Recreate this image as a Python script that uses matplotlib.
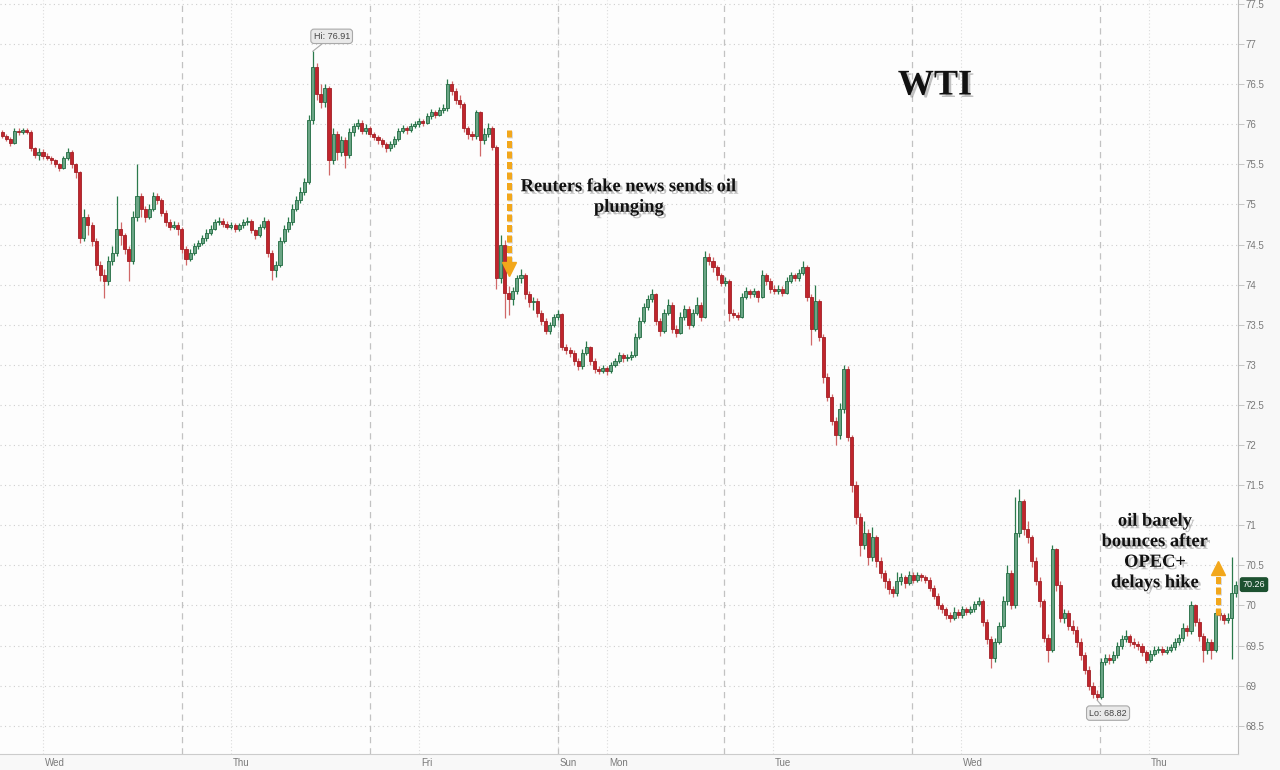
import numpy as np
import matplotlib
matplotlib.use("Agg")
import matplotlib.pyplot as plt
import matplotlib.patheffects as pe
from matplotlib.transforms import ScaledTranslation

# WTI crude, 30-minute candles (trading hours only, session gaps removed)
closes = [
    75.86, 75.82, 75.77, 75.92, 75.90, 75.93, 75.91, 75.70, 75.62, 75.66,
    75.60, 75.58, 75.55, 75.50, 75.46, 75.58, 75.66, 75.50, 75.40, 74.58,
    74.85, 74.75, 74.55, 74.25, 74.12, 74.05, 74.30, 74.40, 74.70, 74.62,
    74.45, 74.30, 74.85, 75.10, 74.95, 74.85, 74.95, 75.10, 75.05, 74.90,
    74.78, 74.72, 74.75, 74.70, 74.45, 74.32, 74.40, 74.48, 74.52, 74.58,
    74.65, 74.70, 74.78, 74.80, 74.76, 74.72, 74.75, 74.70, 74.74, 74.78,
    74.80, 74.68, 74.62, 74.72, 74.80, 74.40, 74.18, 74.25, 74.55, 74.70,
    74.78, 74.95, 75.05, 75.15, 75.28, 76.05, 76.72, 76.38, 76.28, 76.45,
    75.55, 75.88, 75.65, 75.80, 75.62, 75.90, 75.98, 76.02, 75.92, 75.95,
    75.88, 75.84, 75.80, 75.76, 75.70, 75.75, 75.82, 75.92, 75.95, 75.93,
    75.98, 76.00, 76.04, 76.02, 76.10, 76.15, 76.12, 76.18, 76.20, 76.50,
    76.42, 76.30, 76.25, 75.95, 75.88, 75.85, 76.15, 75.80, 75.88, 75.95,
    75.72, 74.08, 74.50, 73.90, 73.82, 73.92, 74.08, 74.12, 73.88, 73.78,
    73.80, 73.65, 73.55, 73.42, 73.50, 73.60, 73.63, 73.22, 73.18, 73.15,
    73.05, 72.98, 73.15, 73.22, 73.05, 72.95, 72.93, 72.96, 72.92, 73.00,
    73.05, 73.12, 73.08, 73.10, 73.12, 73.35, 73.55, 73.72, 73.82, 73.88,
    73.55, 73.42, 73.65, 73.75, 73.45, 73.40, 73.60, 73.70, 73.50, 73.65,
    73.75, 73.60, 74.35, 74.30, 74.22, 74.12, 74.02, 74.05, 73.65, 73.62,
    73.60, 73.85, 73.92, 73.88, 73.92, 73.85, 74.12, 74.05, 73.95, 73.92,
    73.95, 73.90, 74.05, 74.12, 74.08, 74.15, 74.22, 73.85, 73.45, 73.80,
    73.35, 72.85, 72.60, 72.30, 72.12, 72.45, 72.95, 72.10, 71.50, 71.10,
    70.75, 70.90, 70.60, 70.85, 70.55, 70.40, 70.30, 70.20, 70.15, 70.30,
    70.35, 70.28, 70.38, 70.32, 70.38, 70.35, 70.32, 70.22, 70.12, 70.00,
    69.95, 69.88, 69.85, 69.92, 69.88, 69.95, 69.92, 69.95, 70.02, 70.05,
    69.80, 69.58, 69.35, 69.55, 69.75, 70.05, 70.40, 70.00, 70.90, 71.30,
    70.95, 70.85, 70.55, 70.30, 70.05, 69.60, 69.45, 70.70, 70.25, 69.85,
    69.90, 69.75, 69.70, 69.55, 69.38, 69.20, 69.00, 68.90, 68.86, 69.30,
    69.35, 69.32, 69.38, 69.50, 69.58, 69.62, 69.55, 69.52, 69.50, 69.42,
    69.32, 69.40, 69.45, 69.46, 69.42, 69.45, 69.48, 69.55, 69.60, 69.72,
    69.68, 70.00, 69.80, 69.62, 69.45, 69.55, 69.45, 69.90, 69.88, 69.82,
    69.85, 70.15, 70.26,
]

highs = [
    75.93, 75.88, 75.84, 75.95, 75.96, 75.96, 75.95, 75.93, 75.72, 75.70,
    75.69, 75.64, 75.60, 75.57, 75.52, 75.61, 75.70, 75.68, 75.52, 75.42,
    74.95, 74.88, 74.78, 74.58, 74.30, 74.20, 74.36, 74.48, 75.10, 74.78,
    74.65, 74.48, 74.92, 75.50, 75.14, 74.98, 75.00, 75.15, 75.14, 75.08,
    74.93, 74.82, 74.79, 74.78, 74.72, 74.48, 74.44, 74.52, 74.56, 74.62,
    74.69, 74.74, 74.82, 74.85, 74.83, 74.79, 74.78, 74.77, 74.77, 74.82,
    74.85, 74.82, 74.70, 74.76, 74.84, 74.82, 74.43, 74.30, 74.60, 74.75,
    74.84, 75.00, 75.10, 75.22, 75.33, 76.12, 76.91, 76.76, 76.50, 76.50,
    76.48, 75.95, 75.92, 75.86, 75.84, 75.95, 76.02, 76.06, 76.05, 76.00,
    75.98, 75.91, 75.87, 75.83, 75.78, 75.79, 75.86, 75.96, 75.99, 75.98,
    76.02, 76.04, 76.08, 76.07, 76.14, 76.19, 76.18, 76.22, 76.25, 76.57,
    76.54, 76.45, 76.36, 76.28, 75.98, 75.92, 76.18, 76.17, 75.95, 76.02,
    75.98, 75.74, 74.62, 74.56, 73.98, 73.97, 74.12, 74.20, 74.14, 73.92,
    73.85, 73.83, 73.68, 73.58, 73.54, 73.64, 73.68, 73.65, 73.26, 73.22,
    73.18, 73.08, 73.20, 73.30, 73.24, 73.08, 72.99, 73.00, 72.99, 73.04,
    73.09, 73.16, 73.15, 73.14, 73.17, 73.40, 73.60, 73.77, 73.87, 73.95,
    73.90, 73.58, 73.70, 73.82, 73.78, 73.50, 73.66, 73.75, 73.73, 73.70,
    73.85, 73.78, 74.42, 74.40, 74.34, 74.25, 74.15, 74.10, 74.07, 73.70,
    73.66, 73.90, 73.97, 73.95, 73.96, 73.94, 74.18, 74.15, 74.08, 73.99,
    74.00, 73.98, 74.09, 74.16, 74.15, 74.20, 74.30, 74.25, 73.88, 74.00,
    73.82, 73.38, 72.90, 72.64, 72.35, 72.52, 73.00, 72.98, 72.12, 71.55,
    71.15, 71.05, 70.95, 70.98, 70.88, 70.60, 70.44, 70.34, 70.24, 70.42,
    70.40, 70.38, 70.43, 70.42, 70.42, 70.41, 70.38, 70.35, 70.25, 70.15,
    70.03, 69.98, 69.92, 69.98, 69.95, 69.99, 69.98, 69.99, 70.06, 70.10,
    70.08, 69.83, 69.62, 69.60, 69.80, 70.12, 70.50, 70.44, 71.35, 71.45,
    71.33, 71.05, 70.88, 70.60, 70.35, 70.08, 69.65, 70.75, 70.72, 70.30,
    69.96, 69.94, 69.82, 69.74, 69.60, 69.42, 69.24, 69.05, 68.95, 69.35,
    69.40, 69.39, 69.43, 69.55, 69.63, 69.70, 69.65, 69.59, 69.56, 69.53,
    69.45, 69.45, 69.49, 69.50, 69.49, 69.49, 69.52, 69.60, 69.65, 69.78,
    69.76, 70.05, 70.02, 69.84, 69.66, 69.60, 69.58, 69.96, 69.94, 69.91,
    69.90, 70.60, 70.30,
]

lows = [
    75.83, 75.79, 75.73, 75.75, 75.87, 75.88, 75.88, 75.67, 75.58, 75.55,
    75.57, 75.55, 75.51, 75.47, 75.42, 75.44, 75.56, 75.46, 75.33, 74.52,
    74.55, 74.62, 74.48, 74.18, 74.05, 73.83, 74.00, 74.25, 74.36, 74.50,
    74.38, 74.05, 74.26, 74.80, 74.85, 74.78, 74.82, 74.92, 75.00, 74.86,
    74.73, 74.68, 74.70, 74.62, 74.40, 74.25, 74.29, 74.37, 74.45, 74.49,
    74.55, 74.62, 74.68, 74.75, 74.72, 74.69, 74.69, 74.66, 74.67, 74.71,
    74.75, 74.64, 74.57, 74.60, 74.69, 74.35, 74.06, 74.10, 74.22, 74.52,
    74.66, 74.75, 74.92, 75.02, 75.12, 75.25, 76.00, 76.30, 76.20, 76.22,
    75.37, 75.50, 75.55, 75.60, 75.45, 75.58, 75.86, 75.94, 75.88, 75.88,
    75.84, 75.80, 75.76, 75.72, 75.66, 75.67, 75.72, 75.79, 75.89, 75.88,
    75.90, 75.95, 75.97, 75.98, 76.00, 76.07, 76.08, 76.10, 76.14, 76.17,
    76.36, 76.25, 76.20, 75.90, 75.82, 75.80, 75.82, 75.60, 75.76, 75.84,
    75.68, 73.95, 74.02, 73.58, 73.62, 73.75, 73.88, 74.02, 73.82, 73.72,
    73.68, 73.60, 73.50, 73.38, 73.39, 73.47, 73.56, 73.18, 73.14, 73.10,
    73.00, 72.94, 72.95, 73.12, 73.00, 72.90, 72.89, 72.90, 72.88, 72.90,
    72.97, 73.02, 73.04, 73.05, 73.06, 73.10, 73.32, 73.52, 73.68, 73.78,
    73.50, 73.36, 73.40, 73.62, 73.40, 73.35, 73.38, 73.56, 73.45, 73.47,
    73.62, 73.55, 73.58, 74.24, 74.16, 74.06, 73.98, 73.98, 73.55, 73.58,
    73.56, 73.58, 73.82, 73.83, 73.85, 73.78, 73.83, 74.00, 73.90, 73.88,
    73.89, 73.86, 73.88, 74.02, 74.04, 74.05, 74.12, 73.80, 73.25, 73.42,
    73.30, 72.78, 72.55, 72.25, 72.00, 72.08, 72.40, 72.05, 71.42, 71.02,
    70.62, 70.70, 70.50, 70.55, 70.48, 70.34, 70.22, 70.14, 70.10, 70.12,
    70.26, 70.22, 70.25, 70.28, 70.29, 70.31, 70.28, 70.18, 70.08, 69.95,
    69.90, 69.83, 69.80, 69.82, 69.84, 69.85, 69.88, 69.89, 69.92, 69.99,
    69.75, 69.52, 69.22, 69.30, 69.52, 69.72, 70.00, 69.95, 69.97, 70.85,
    70.88, 70.78, 70.48, 70.25, 69.98, 69.55, 69.30, 69.42, 70.18, 69.80,
    69.78, 69.70, 69.64, 69.48, 69.32, 69.14, 68.95, 68.85, 68.82, 68.84,
    69.26, 69.27, 69.28, 69.35, 69.46, 69.54, 69.50, 69.47, 69.45, 69.37,
    69.28, 69.29, 69.37, 69.41, 69.38, 69.39, 69.42, 69.45, 69.51, 69.56,
    69.62, 69.65, 69.74, 69.56, 69.30, 69.40, 69.33, 69.42, 69.82, 69.77,
    69.78, 69.33, 70.10,
]

first_open = 75.90
day_labels = ["Wed", "Thu", "Fri", "Sun", "Mon", "Tue", "Wed", "Thu"]
day_ticks = [10, 56, 102, 136, 148, 188.75, 234.75, 280.75]
session_breaks = [44, 90, 136, 176.75, 222.75, 268.75]
price_ticks = np.arange(68.5, 77.51, 0.5)

opens = [first_open] + closes[:-1]
o = np.array(opens)
c = np.array(closes)
h = np.array(highs)
l = np.array(lows)
idx = np.arange(len(c))
up = c >= o

W, H = 1280, 770
fig = plt.figure(figsize=(W / 100, H / 100), dpi=100, facecolor="#f8f8f8")
ax = fig.add_axes([0, 16 / H, 1238 / W, 754 / H])
ax.set_facecolor("#fdfdfd")
ax.set_xlim(-0.53, 302.5)
ax.set_ylim(68.148, 77.55)

# grid
for yv in price_ticks:
    ax.axhline(yv, color="#cfcfcf", lw=0.8, ls=(0, (1, 3)), zorder=0)
for xv in day_ticks:
    ax.axvline(xv, color="#dcdcdc", lw=0.8, ls=(0, (1, 2)), zorder=0)
for xv in session_breaks:
    ax.axvline(xv, color="#c2c2c2", lw=0.9, ls=(0, (5, 4)), zorder=0)

# candles
green_fill, green_edge, green_wick = "#6aa585", "#1f6a40", "#2b7a4c"
red_fill, red_edge, red_wick = "#c0252c", "#a21f26", "#d06868"
ax.vlines(idx[up], l[up], h[up], color=green_wick, lw=0.9, zorder=2)
ax.vlines(idx[~up], l[~up], h[~up], color=red_wick, lw=0.9, zorder=2)
body_low = np.minimum(o, c)
body_h = np.maximum(np.abs(c - o), 0.012)
ax.bar(idx[up], body_h[up], bottom=body_low[up], width=0.75,
       color=green_fill, edgecolor=green_edge, linewidth=0.6, zorder=3)
ax.bar(idx[~up], body_h[~up], bottom=body_low[~up], width=0.75,
       color=red_fill, edgecolor=red_edge, linewidth=0.6, zorder=3)

# axes styling
for side in ("top", "left"):
    ax.spines[side].set_visible(False)
ax.spines["right"].set_color("#bdbdbd")
ax.spines["bottom"].set_color("#cccccc")
ax.yaxis.tick_right()
ax.set_yticks(price_ticks)
ax.set_yticklabels([f"{v:g}" for v in price_ticks])
ax.tick_params(axis="y", length=4, width=0.6, color="#bdbdbd",
               labelsize=7, labelcolor="#7a7a7a", pad=1.5)
ax.set_xticks(day_ticks)
ax.set_xticklabels(day_labels)
ax.tick_params(axis="x", length=0, labelsize=7, labelcolor="#7a7a7a", pad=3)
shift = ScaledTranslation(2 / 100, 0, fig.dpi_scale_trans)
for lbl in ax.get_xticklabels():
    lbl.set_ha("left")
    lbl.set_transform(lbl.get_transform() + shift)
for lbl in ax.get_xticklabels() + ax.get_yticklabels():
    lbl.set_fontfamily("Liberation Sans")

# titles / annotations
shadow = [pe.SimplePatchShadow(offset=(1.8, -1.8), shadow_rgbFace="#777777", alpha=0.45),
          pe.Normal()]
serif = "Liberation Serif"
fig.text(935 / W, 1 - 86 / H, "WTI", fontsize=26, fontweight="bold", family=serif,
         ha="center", va="center", color="#111111", path_effects=shadow)
fig.text(629 / W, 1 - 197 / H, "Reuters fake news sends oil\nplunging", fontsize=13.3,
         fontweight="bold", family=serif, ha="center", va="center", color="#111111",
         linespacing=1.27, path_effects=shadow)
fig.text(1155 / W, 1 - 552 / H, "oil barely\nbounces after\nOPEC+\ndelays hike", fontsize=13.3,
         fontweight="bold", family=serif, ha="center", va="center", color="#111111",
         linespacing=1.27, path_effects=shadow)

# dashed orange arrows
orange = "#f2a71b"
arrow_fx = [pe.SimpleLineShadow(offset=(1, -1), shadow_color="#999999", alpha=0.35), pe.Normal()]
ax.plot([124, 124], [75.93, 74.28], color=orange, lw=3.6, dashes=(1.4, 0.7),
        solid_capstyle="butt", zorder=5, path_effects=arrow_fx)
ax.plot([124], [74.19], marker="v", ms=10, color=orange, mec=orange, zorder=5)
ax.plot([297.6, 297.6], [69.88, 70.38], color=orange, lw=3.6, dashes=(1.4, 0.7),
        solid_capstyle="butt", zorder=5, path_effects=arrow_fx)
ax.plot([297.6], [70.47], marker="^", ms=10, color=orange, mec=orange, zorder=5)

# high / low flags
hi_i = int(np.argmax(h))
lo_i = int(np.argmin(l))
box = dict(boxstyle="round,pad=0.3,rounding_size=0.35", fc="#e9e9e9", ec="#a9a9a9", lw=0.8)
ax.annotate(f"Hi: {h[hi_i]:.2f}", xy=(hi_i, h[hi_i]), xytext=(19, 15),
            textcoords="offset pixels", ha="center", va="center", fontsize=6.5,
            family="Liberation Sans", color="#444444", bbox=box,
            arrowprops=dict(arrowstyle="-", color="#a9a9a9", lw=0.8, shrinkA=0, shrinkB=0))
ax.annotate(f"Lo: {l[lo_i]:.2f}", xy=(lo_i, l[lo_i]), xytext=(11, -13),
            textcoords="offset pixels", ha="center", va="center", fontsize=6.5,
            family="Liberation Sans", color="#444444", bbox=box,
            arrowprops=dict(arrowstyle="-", color="#a9a9a9", lw=0.8, shrinkA=0, shrinkB=0))

# last price tag
ax.annotate(f"{c[-1]:.2f}", xy=(1.0, c[-1]), xycoords=("axes fraction", "data"),
            xytext=(16, 0), textcoords="offset pixels", ha="center", va="center",
            fontsize=6.5, family="Liberation Sans", color="white",
            bbox=dict(boxstyle="round,pad=0.25,rounding_size=0.2", fc="#1d5130", ec="#1d5130"),
            annotation_clip=False)

fig.savefig("out.png", dpi=100, facecolor=fig.get_facecolor())
